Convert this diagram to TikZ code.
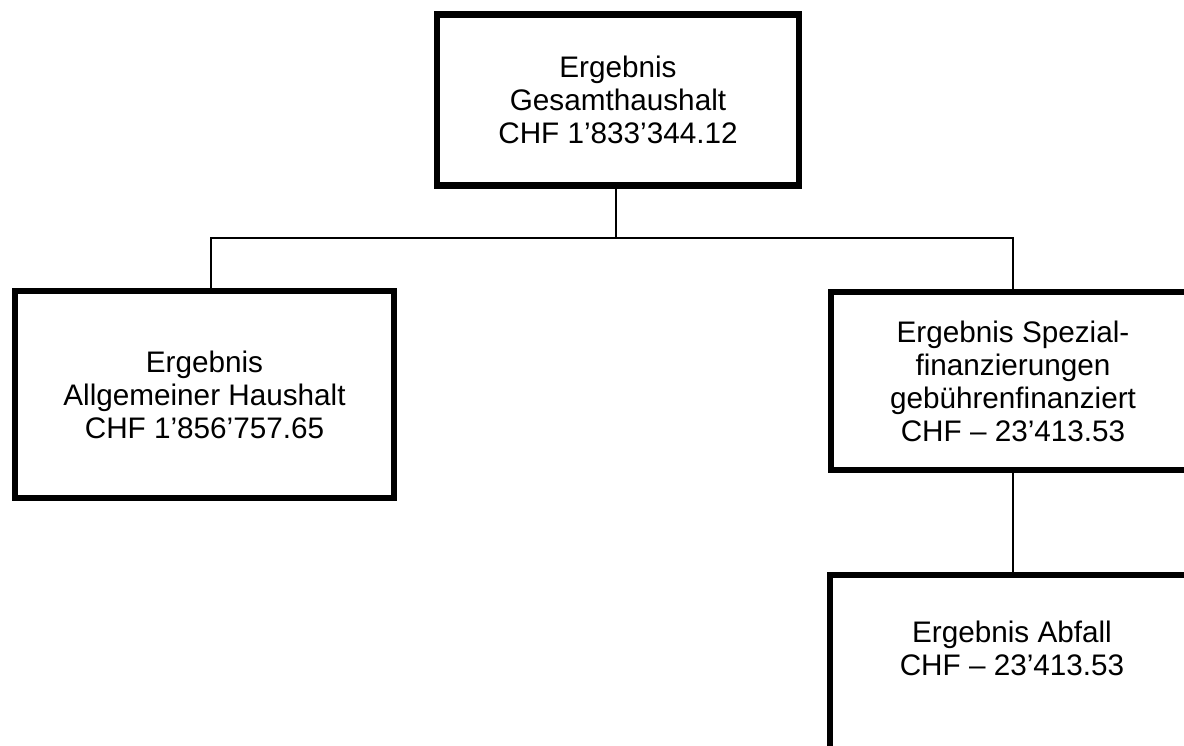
\documentclass[tikz,border=0pt]{standalone}
\usepackage{fontspec}
\setmainfont{Liberation Sans}
\begin{document}
\begin{tikzpicture}[
  box/.style={shape=rectangle, draw=black, line width=3.7pt, fill=white, align=center, font=\fontsize{16.9}{18.8}\selectfont},
  boxtext/.style={align=center, inner sep=0pt, font=\fontsize{16.9}{18.8}\selectfont},
  link/.style={-, draw=black, line width=0.9pt}]
\useasboundingbox (0,0) rectangle (23.68,-14.9);
\clip (0,0) rectangle (23.68,-14.9);
\node[box, minimum width=7.24cm, minimum height=3.42cm] (gesamt) at (12.36,-2.0) {Ergebnis\\Gesamthaushalt\\CHF 1’833’344.12};
\node[box, minimum width=7.58cm, minimum height=4.14cm] (allg) at (4.09,-7.89) {Ergebnis\\Allgemeiner Haushalt\\CHF 1’856’757.65};
\node[box, minimum width=7.28cm, minimum height=3.56cm] (spezial) at (20.26,-7.62) {Ergebnis Spezial-\\finanzierungen\\gebührenfinanziert\\CHF – 23’413.53};
\node[box, minimum width=7.28cm, minimum height=4.14cm] (abfall) at (20.24,-13.57) {};
\node[boxtext] (abfalltext) at ([yshift=-1.54cm]abfall.north) {Ergebnis Abfall\\CHF – 23’413.53};
\coordinate (fork) at (12.32,-4.76);
\draw[link] (gesamt.south -| fork) -- (fork) -| ([xshift=0.13cm]allg.north);
\draw[link] (fork) -| (spezial.north);
\draw[link] (spezial.south) -- (spezial.south |- abfall.north);
\end{tikzpicture}
\end{document}
